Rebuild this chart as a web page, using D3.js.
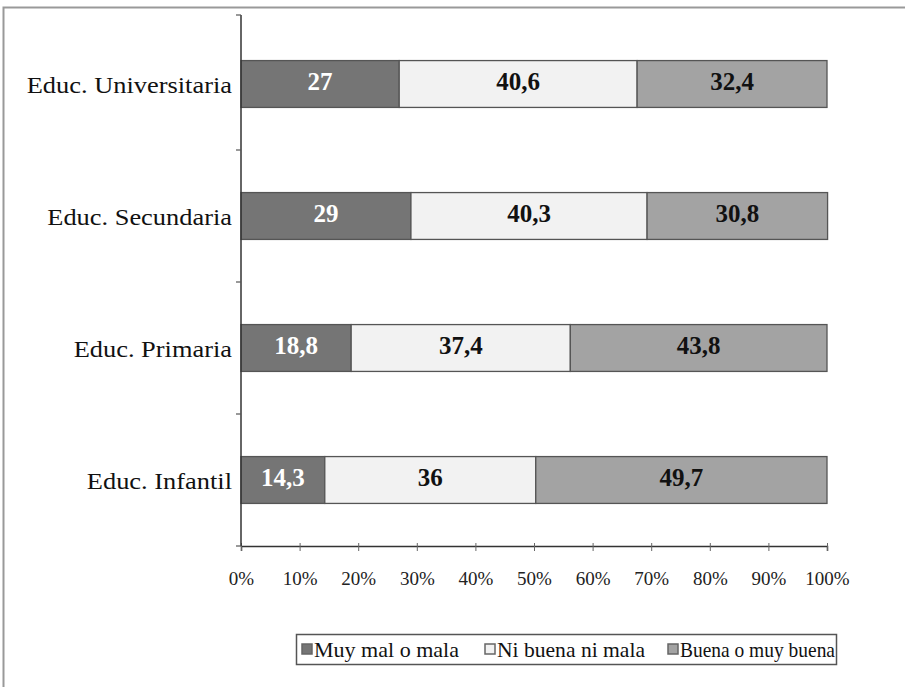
<!DOCTYPE html>
<html><head><meta charset="utf-8">
<script src="https://cdn.jsdelivr.net/npm/d3@7"></script>
<style>body{margin:0;background:#fff}svg{display:block}</style>
</head><body>
<svg id="c" width="905" height="687"></svg>
<script>
const categories = ["Educ. Universitaria","Educ. Secundaria","Educ. Primaria","Educ. Infantil"];
const seriesNames = ["Muy mal o mala","Ni buena ni mala","Buena o muy buena"];
const muyMal = [27, 29, 18.8, 14.3];
const niBuena = [40.6, 40.3, 37.4, 36];
const buena = [32.4, 30.8, 43.8, 49.7];
const xTicks = [0,10,20,30,40,50,60,70,80,90,100];

const colors = ["#757575","#f2f2f2","#a3a3a3"];
const textColors = ["#ffffff","#111111","#111111"];
const font = "'Liberation Serif', 'DejaVu Serif', serif";

const svg = d3.select("#c");
// outer frame
svg.append("rect").attr("x",3.5).attr("y",7.5).attr("width",910).attr("height",700)
  .attr("fill","none").attr("stroke","#999").attr("stroke-width",2);

const x = d3.scaleLinear().domain([0,100]).range([241,827]);
const y = d3.scaleBand().domain(categories).range([18,546]).paddingInner(0.645).paddingOuter(0.3225);

const data = categories.map((c,i)=>({cat:c, vals:[muyMal[i],niBuena[i],buena[i]]}));
const stack = data.map(d=>{let acc=0;return d.vals.map((v,k)=>{const s={cat:d.cat,k,v,x0:acc,x1:acc+v};acc+=v;return s;});}).flat();

const g = svg.append("g");
g.selectAll("rect.seg").data(stack).join("rect").attr("class","seg")
  .attr("x",d=>x(d.x0)).attr("y",d=>y(d.cat)).attr("width",d=>x(d.x1)-x(d.x0)).attr("height",y.bandwidth())
  .attr("fill",d=>colors[d.k]).attr("stroke","#555").attr("stroke-width",1.3);
g.selectAll("text.lbl").data(stack).join("text").attr("class","lbl")
  .attr("x",d=>(x(d.x0)+x(d.x1))/2).attr("y",d=>y(d.cat)+y.bandwidth()/2+6)
  .attr("text-anchor","middle").attr("font-family",font).attr("font-weight","bold").attr("font-size",25)
  .attr("fill",d=>textColors[d.k]).text(d=>String(d.v).replace(".",","));

// x axis
const xa = svg.append("g").attr("transform","translate(0,546)")
  .call(d3.axisBottom(x).tickValues(xTicks).tickSize(5).tickFormat(d=>d+"%"));
xa.select(".domain").attr("stroke","#333").attr("stroke-width",1.5);
xa.selectAll(".tick line").attr("stroke","#666").attr("y1",-3);
xa.selectAll("text").attr("font-family",font).attr("font-size",19).attr("fill","#222").attr("dy","1.65em");

// y axis with ticks at band boundaries
const yBounds = d3.range(categories.length+1).map(i=>18+i*(546-18)/categories.length);
svg.append("line").attr("x1",241).attr("x2",241).attr("y1",15).attr("y2",546).attr("stroke","#333").attr("stroke-width",1.5);
svg.append("line").attr("x1",236).attr("x2",241).attr("y1",15).attr("y2",15).attr("stroke","#555").attr("stroke-width",1.2);
svg.selectAll("line.yt").data(yBounds.slice(1)).join("line").attr("class","yt")
  .attr("x1",236).attr("x2",241).attr("y1",d=>d).attr("y2",d=>d).attr("stroke","#555").attr("stroke-width",1.2);
svg.selectAll("text.yl").data(categories).join("text").attr("class","yl")
  .attr("x",232).attr("y",d=>y(d)+y.bandwidth()/2+9).attr("text-anchor","end")
  .attr("font-family",font).attr("font-size",24).attr("fill","#111").text(d=>d)
  .each(function(){const L=this.getComputedTextLength();d3.select(this).attr("textLength",L*1.1).attr("lengthAdjust","spacingAndGlyphs");});

// legend
const lg = svg.append("g");
lg.append("rect").attr("x",296.5).attr("y",634.5).attr("width",540).attr("height",30)
  .attr("fill","#fff").attr("stroke","#555").attr("stroke-width",1.5);
const lx = [302,485,668];
seriesNames.forEach((n,i)=>{
  lg.append("rect").attr("x",lx[i]).attr("y",644).attr("width",10).attr("height",10)
    .attr("fill",colors[i]).attr("stroke","#666").attr("stroke-width",1.5);
  lg.append("text").attr("x",lx[i]+12).attr("y",657).attr("font-family",font).attr("font-size",22)
    .attr("fill","#111").attr("textLength",[145,148,155][i]).attr("lengthAdjust","spacingAndGlyphs").text(n);
});
</script>
</body></html>
